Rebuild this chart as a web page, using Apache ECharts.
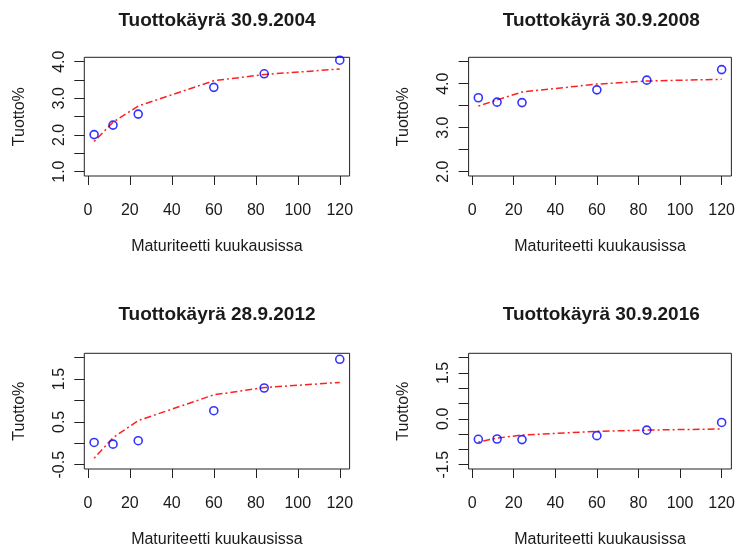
<!DOCTYPE html>
<html><head><meta charset="utf-8">
<script src="https://cdn.jsdelivr.net/npm/echarts@6/dist/echarts.min.js"></script>
<style>html,body{margin:0;padding:0;background:#fff}#c{width:738px;height:549px}</style>
</head><body><div id="c"></div>
<script>
// ---- data ----
const maturities = [3, 12, 24, 60, 84, 120];
const titles = ['Tuottokäyrä 30.9.2004', 'Tuottokäyrä 30.9.2008', 'Tuottokäyrä 28.9.2012', 'Tuottokäyrä 30.9.2016'];
const observed2004 = [2.01, 2.27, 2.57, 3.30, 3.67, 4.04];
const fitted2004   = [1.82, 2.35, 2.79, 3.48, 3.65, 3.80];
const observed2008 = [3.68, 3.58, 3.57, 3.86, 4.08, 4.32];
const fitted2008   = [3.49, 3.63, 3.81, 3.99, 4.06, 4.10];
const observed2012 = [0.02, -0.02, 0.06, 0.76, 1.29, 1.96];
const fitted2012   = [-0.35, 0.13, 0.53, 1.13, 1.30, 1.42];
const observed2016 = [-0.67, -0.66, -0.68, -0.55, -0.37, -0.12];
const fitted2016   = [-0.76, -0.63, -0.53, -0.41, -0.37, -0.33];
const xTicks = [0, 20, 40, 60, 80, 100, 120];
const yLims = [[1, 4], [2, 4.5], [-0.5, 2], [-1.5, 2]];
const yTicks = [
  [1, 1.5, 2, 2.5, 3, 3.5, 4],
  [2, 2.5, 3, 3.5, 4, 4.5],
  [-0.5, 0, 0.5, 1, 1.5, 2],
  [-1.5, -1, -0.5, 0, 0.5, 1, 1.5, 2]
];
const yLabels = [[1, 2, 3, 4], [2, 3, 4], [-0.5, 0.5, 1.5], [-1.5, 0, 1.5]];
const xLabel = 'Maturiteetti kuukausissa';
const yLabel = 'Tuotto%';

const observed = [observed2004, observed2008, observed2012, observed2016];
const fitted = [fitted2004, fitted2008, fitted2012, fitted2016];

// ---- layout ----
const FONT = '"Liberation Sans", Arial, Helvetica, sans-serif';
const TXT = '#1a1a1a';
const colLeft = [84.3, 468.6];
const boxW = 265.3;
const rowTop = [57.3, 353.3];
const boxH = [118.7, 117.4];
const titleTop = [11.5, 305];

const xr = [Math.min(...maturities), Math.max(...maturities)];
const xExt = (xr[1] - xr[0]) * 0.04;

const grids = [], xAxes = [], yAxes = [], series = [], titleArr = [];
for (let i = 0; i < 4; i++) {
  const c = i % 2, r = Math.floor(i / 2);
  grids.push({left: colLeft[c], top: rowTop[r], width: boxW, height: boxH[r],
    show: true, borderColor: '#222', borderWidth: 1, backgroundColor: 'transparent', containLabel: false});
  titleArr.push({text: titles[i], left: colLeft[c] + boxW / 2, top: titleTop[r], textAlign: 'center', padding: 0,
    textStyle: {fontFamily: FONT, fontSize: 19, fontWeight: 'bold', color: TXT}});
  xAxes.push({type: 'value', gridIndex: i, position: 'bottom', min: xr[0] - xExt, max: xr[1] + xExt,
    axisLine: {show: false, onZero: false}, splitLine: {show: false},
    axisTick: {show: true, inside: false, length: 9, customValues: xTicks, lineStyle: {color: '#222', width: 1}},
    axisLabel: {show: true, customValues: xTicks, margin: 27, fontFamily: FONT, fontSize: 16, color: TXT},
    name: xLabel, nameLocation: 'middle', nameGap: 63,
    nameTextStyle: {fontFamily: FONT, fontSize: 16, color: TXT}});
  const yl = yLims[i], ye = (yl[1] - yl[0]) * 0.04;
  yAxes.push({type: 'value', gridIndex: i, position: 'left', min: yl[0] - ye, max: yl[1] + ye,
    axisLine: {show: false, onZero: false}, splitLine: {show: false},
    axisTick: {show: true, inside: false, length: 10, customValues: yTicks[i], lineStyle: {color: '#222', width: 1}},
    axisLabel: {show: true, customValues: yLabels[i], rotate: 90, margin: 17, fontFamily: FONT, fontSize: 16, color: TXT,
      formatter: v => v.toFixed(1)},
    name: yLabel, nameLocation: 'middle', nameGap: 57, nameRotate: 90,
    nameTextStyle: {fontFamily: FONT, fontSize: 16, color: TXT}});
  series.push({type: 'scatter', xAxisIndex: i, yAxisIndex: i,
    data: maturities.map((m, k) => [m, observed[i][k]]),
    symbol: 'circle', symbolSize: 8,
    itemStyle: {color: 'transparent', borderColor: '#0000ff', borderWidth: 1.6}, z: 3});
  series.push({type: 'line', xAxisIndex: i, yAxisIndex: i,
    data: maturities.map((m, k) => [m, fitted[i][k]]),
    symbol: 'none', smooth: false,
    lineStyle: {color: '#ff2020', width: 1.5, type: [2, 3, 7, 3]}, z: 2});
}

const chart = echarts.init(document.getElementById('c'), null, {renderer: 'canvas'});
chart.setOption({
  animation: false,
  backgroundColor: '#fff',
  title: titleArr,
  grid: grids,
  xAxis: xAxes,
  yAxis: yAxes,
  series: series
});
</script></body></html>
